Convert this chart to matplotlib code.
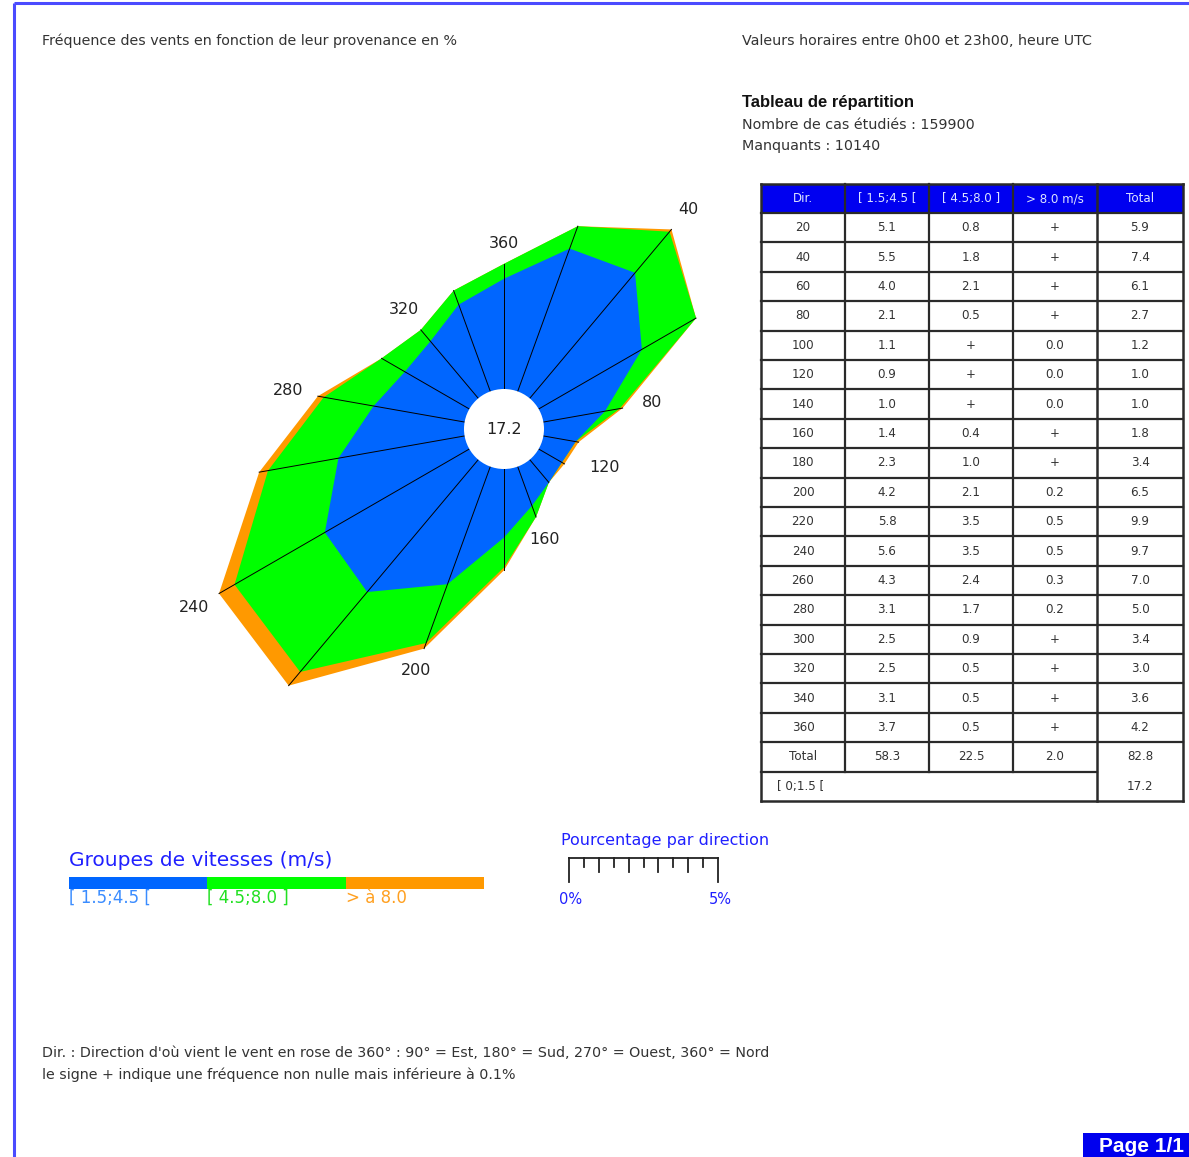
import numpy as np
import matplotlib
matplotlib.use("Agg")
import matplotlib.pyplot as plt
from matplotlib.patches import Polygon, Circle, Rectangle

# ---------------------------------------------------------------------------
# Wind distribution data (frequency in %, "+" = non-zero but below 0.1 %)
# ---------------------------------------------------------------------------
directions = [20, 40, 60, 80, 100, 120, 140, 160, 180,
              200, 220, 240, 260, 280, 300, 320, 340, 360]
speed_low = [5.1, 5.5, 4.0, 2.1, 1.1, 0.9, 1.0, 1.4, 2.3,
             4.2, 5.8, 5.6, 4.3, 3.1, 2.5, 2.5, 3.1, 3.7]
speed_mid = [0.8, 1.8, 2.1, 0.5, "+", "+", "+", 0.4, 1.0,
             2.1, 3.5, 3.5, 2.4, 1.7, 0.9, 0.5, 0.5, 0.5]
speed_high = ["+", "+", "+", "+", 0.0, 0.0, 0.0, "+", "+",
              0.2, 0.5, 0.5, 0.3, 0.2, "+", "+", "+", "+"]
totals = [5.9, 7.4, 6.1, 2.7, 1.2, 1.0, 1.0, 1.8, 3.4,
          6.5, 9.9, 9.7, 7.0, 5.0, 3.4, 3.0, 3.6, 4.2]
column_totals = [58.3, 22.5, 2.0, 82.8]
calm = 17.2
n_cases = 159900
n_missing = 10140

speed_classes = ["[ 1.5;4.5 [", "[ 4.5;8.0 ]", "> à 8.0"]
header_labels = ["Dir.", "[ 1.5;4.5 [", "[ 4.5;8.0 ]", "> 8.0 m/s", "Total"]
labelled_dirs = [40, 80, 120, 160, 200, 240, 280, 320, 360]

C_BLUE = "#0066ff"
C_GREEN = "#00ff00"
C_ORANGE = "#ff9900"
C_TEXT = "#333333"
C_PAGE = "#4b4bff"


def num(v):
    return 0.0 if v == "+" else float(v)


def fmt(v):
    return "+" if v == "+" else f"{v:.1f}"


W, H = 1189, 1157
fig = plt.figure(figsize=(W / 100, H / 100), dpi=100)

# Page overlay in pixel coordinates
ax = fig.add_axes([0, 0, 1, 1])
ax.set_xlim(0, W)
ax.set_ylim(H, 0)
ax.axis("off")
ax.patch.set_visible(False)

# page frame
ax.plot([14, W], [3, 3], color=C_PAGE, lw=2.2, solid_capstyle="butt")
ax.plot([14, 14], [3, H], color=C_PAGE, lw=2.2, solid_capstyle="butt")

sans = ["DejaVu Sans"]
bold_sans = ["Liberation Sans", "DejaVu Sans"]
FS = 10.3
ax.text(42, 41, "Fréquence des vents en fonction de leur provenance en %",
        fontsize=FS, color=C_TEXT, family=sans, va="center")
ax.text(742, 41, "Valeurs horaires entre 0h00 et 23h00, heure UTC",
        fontsize=FS, color=C_TEXT, family=sans, va="center")
ax.text(742, 102, "Tableau de répartition", fontsize=12, color="#111111",
        family=bold_sans, weight="bold", va="center")
ax.text(742, 125, f"Nombre de cas étudiés : {n_cases}", fontsize=FS,
        color=C_TEXT, family=sans, va="center")
ax.text(742, 146, f"Manquants : {n_missing}", fontsize=FS,
        color=C_TEXT, family=sans, va="center")

# ---------------------------------------------------------------------------
# Distribution table
# ---------------------------------------------------------------------------
cols_x = [761, 845, 929, 1013, 1097, 1183]
top, head_h, row_h = 184, 29, 29.4
TS = 8.6
ax.add_patch(Rectangle((cols_x[0], top), cols_x[-1] - cols_x[0], head_h,
                       facecolor="#0000f0", edgecolor="none"))
for i, lab in enumerate(header_labels):
    ax.text((cols_x[i] + cols_x[i + 1]) / 2, top + head_h / 2, lab,
            color="#dde4ff", fontsize=TS, family=sans, ha="center", va="center")

rows = []
for d, a, b, c, t in zip(directions, speed_low, speed_mid, speed_high, totals):
    rows.append([str(d), fmt(a), fmt(b), fmt(c), fmt(t)])
rows.append(["Total"] + [f"{v:.1f}" for v in column_totals])

y0 = top + head_h
for r, row in enumerate(rows):
    yc = y0 + (r + 0.5) * row_h
    for i, s in enumerate(row):
        ax.text((cols_x[i] + cols_x[i + 1]) / 2, yc, s, color=C_TEXT,
                fontsize=TS, family=sans, ha="center", va="center")
n_rows = len(rows)
y_calm = y0 + (n_rows + 0.5) * row_h
ax.text(cols_x[0] + 16, y_calm, "[ 0;1.5 [", color=C_TEXT, fontsize=TS,
        family=sans, va="center")
ax.text((cols_x[4] + cols_x[5]) / 2, y_calm, f"{calm:.1f}", color=C_TEXT,
        fontsize=TS, family=sans, ha="center", va="center")

bottom = y0 + (n_rows + 1) * row_h
lc = "#2a2a2a"
for r in range(n_rows + 1):
    y = y0 + r * row_h
    x_end = cols_x[4] if r == n_rows else cols_x[-1]
    ax.plot([cols_x[0], x_end], [y, y], color=lc, lw=1.6)
for i, x in enumerate(cols_x):
    if i in (0, 4, 5):
        ax.plot([x, x], [top, bottom], color=lc, lw=1.8)
    else:
        ax.plot([x, x], [top, y0 + n_rows * row_h], color=lc, lw=1.6)
ax.plot([cols_x[0], cols_x[-1]], [top, top], color=lc, lw=1.8)
ax.plot([cols_x[0], cols_x[-1]], [bottom, bottom], color=lc, lw=1.8)

# ---------------------------------------------------------------------------
# Wind rose (data units = %)
# ---------------------------------------------------------------------------
px_per_pct = 29.8
hole = 40 / px_per_pct
cx, cy, half_px = 504, 429, 345
rax = fig.add_axes([(cx - half_px) / W, (H - cy - half_px) / H,
                    2 * half_px / W, 2 * half_px / H])
half = half_px / px_per_pct
rax.set_xlim(-half, half)
rax.set_ylim(-half, half)
rax.axis("off")
rax.patch.set_visible(False)

theta = np.deg2rad(directions)
low = np.array([num(v) for v in speed_low])
mid = np.array([num(v) for v in speed_mid])
tot = np.array(totals)


def ring(values):
    r = hole + values
    return np.column_stack([r * np.sin(theta), r * np.cos(theta)])


rax.add_patch(Polygon(ring(tot), closed=True, facecolor=C_ORANGE,
                      edgecolor="none", zorder=1))
rax.add_patch(Polygon(ring(low + mid), closed=True, facecolor=C_GREEN,
                      edgecolor="none", zorder=2))
rax.add_patch(Polygon(ring(low), closed=True, facecolor=C_BLUE,
                      edgecolor="none", zorder=3))
for th, t in zip(theta, tot):
    rax.plot([hole * np.sin(th), (hole + t) * np.sin(th)],
             [hole * np.cos(th), (hole + t) * np.cos(th)],
             color="black", lw=0.7, zorder=4)
rax.add_patch(Circle((0, 0), hole, facecolor="white", edgecolor="none",
                     zorder=5))
rax.text(0, 0, f"{calm:.1f}", ha="center", va="center", fontsize=11.5,
         color="#222222", zorder=6)

for d in labelled_dirs:
    k = directions.index(d)
    short = tot[k] < 1.5
    # labels of very short branches are turned slightly and pushed outward
    th = theta[k] - np.deg2rad(9 if short else 0)
    pad = (20 + 10 * abs(np.sin(th)) + (8 if short else 0)) / px_per_pct
    r = hole + tot[k] + pad
    rax.text(r * np.sin(th), r * np.cos(th), str(d), ha="center",
             va="center", fontsize=11.5, color="#222222", zorder=6)

# ---------------------------------------------------------------------------
# Speed class legend
# ---------------------------------------------------------------------------
ax.text(69, 860, "Groupes de vitesses (m/s)", color="#2020ff", fontsize=14.5,
        va="center")
seg_w = (484 - 69) / 3
label_cols = ["#3a8cff", "#22e022", "#ffa020"]
for i, (col, lab) in enumerate(zip([C_BLUE, C_GREEN, C_ORANGE], speed_classes)):
    ax.add_patch(Rectangle((69 + i * seg_w, 877), seg_w, 12, facecolor=col,
                           edgecolor="none"))
    ax.text(69 + i * seg_w, 898, lab, color=label_cols[i], fontsize=12,
            va="center")

# Percentage scale
sx0, sy0 = 569, 858
ax.text(sx0 - 8, 840, "Pourcentage par direction", color="#2020ff",
        fontsize=11.5, va="center")
ax.plot([sx0, sx0 + 5 * px_per_pct], [sy0, sy0], color="#222222", lw=1.3)
for k in range(11):
    x = sx0 + k * 0.5 * px_per_pct
    if k in (0, 10):
        h = 24
    elif k % 2 == 0:
        h = 14
    else:
        h = 9
    ax.plot([x, x], [sy0, sy0 + h], color="#222222", lw=1.3)
ax.text(sx0 + 2, 899, "0%", color="#2020ff", fontsize=10.5, ha="center",
        va="center")
ax.text(sx0 + 5 * px_per_pct + 2, 899, "5%", color="#2020ff", fontsize=10.5,
        ha="center", va="center")

# Footnotes
ax.text(42, 1053, "Dir. : Direction d'où vient le vent en rose de 360° : "
        "90° = Est, 180° = Sud, 270° = Ouest, 360° = Nord",
        fontsize=FS, color=C_TEXT, family=sans, va="center")
ax.text(42, 1075, "le signe + indique une fréquence non nulle mais "
        "inférieure à 0.1%", fontsize=FS, color=C_TEXT, family=sans,
        va="center")

# Page marker
ax.add_patch(Rectangle((1083, 1133), W - 1083, H - 1133, facecolor="#0000ee",
                       edgecolor="none"))
ax.text(1099, 1146, "Page 1/1", color="white", fontsize=15, weight="bold",
        family=bold_sans, ha="left", va="center")

fig.savefig("out.png", dpi=100)
